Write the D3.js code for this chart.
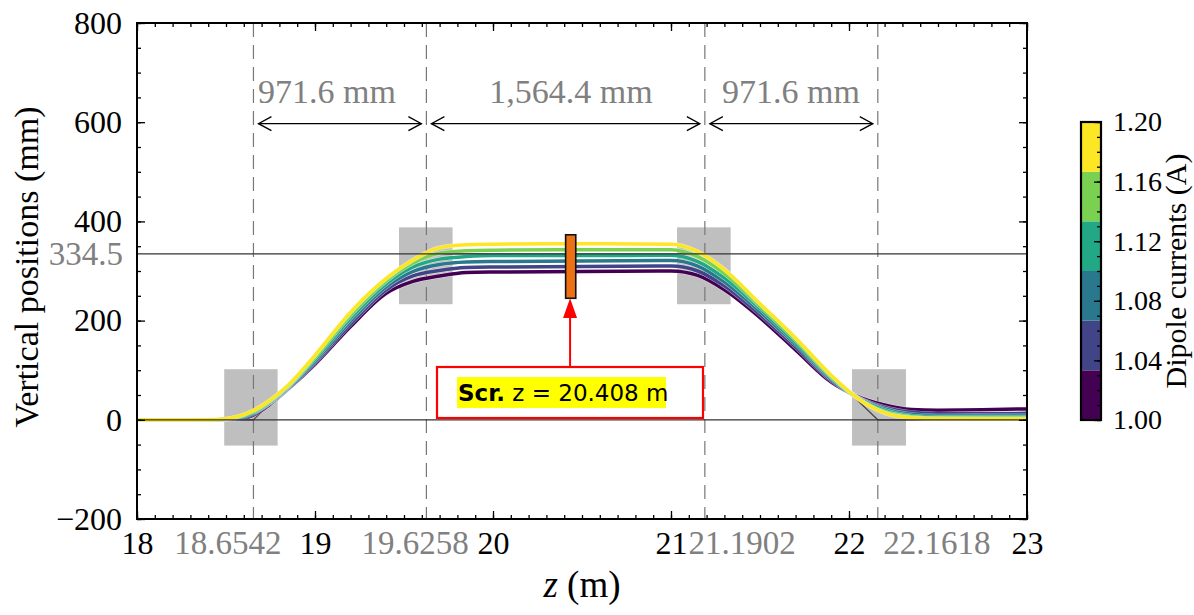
<!DOCTYPE html>
<html>
<head>
<meta charset="utf-8">
<script src="https://cdn.jsdelivr.net/npm/d3@7"></script>
<style>
body { margin: 0; background: #fff; }
</style>
</head>
<body>
<script>
// chart data
var zPts  = [18, 18.3, 18.45, 18.55, 18.65, 18.75, 18.85, 19.0, 19.2, 19.4, 19.55, 19.7, 19.85, 20.0, 20.5, 21.0, 21.15, 21.3, 21.5, 21.7, 21.9, 22.05, 22.2, 22.35, 22.5, 23];
var y100 = [0, 0, 0, 0.5, 9, 32, 62, 112, 188, 255, 279, 290, 297, 298, 299, 300, 291, 262, 206, 141, 76, 47, 30, 21, 19.5, 22];
var y104 = [0, 0, 0, 1, 11, 34, 63, 115, 193, 262, 290, 301, 307, 308, 309, 310, 300, 270, 212, 147, 79, 45, 25, 15, 12, 13];
var y108 = [0, 0, 0, 2, 13, 35, 64, 118, 199, 268, 299, 313, 318, 319, 320, 321, 310, 278, 218, 152, 82, 44, 22, 11, 8, 8.5];
var y112 = [0, 0, 0.2, 3, 14, 36, 66, 122, 205, 274, 308, 324, 329, 331, 331, 332, 319, 286, 224, 156, 85, 44, 19, 8, 5.5, 5.5];
var y116 = [0, 0, 0.3, 4, 16, 38, 68, 126, 211, 280, 316, 336, 341, 342, 343, 343, 329, 295, 229, 161, 87, 43, 16, 6, 3.5, 3.5];
var y120 = [0, 0, 0.5, 5, 18, 40, 70, 130, 217, 285, 322, 347, 353, 354, 355, 354, 339, 303, 234, 165, 90, 43, 14, 4, 2, 1.5];
var currents = [1.00, 1.04, 1.08, 1.12, 1.16, 1.20];
var series = [y100, y104, y108, y112, y116, y120];

var dipoleZ = [18.6542, 19.6258, 21.1902, 22.1618];
var dipoleLabels = ["18.6542", "19.6258", "21.1902", "22.1618"];
var dipoleLabelZ = [18.511, 19.562, 21.399, 22.494];
var boxZ0 = [18.49, 19.472, 21.034, 22.017];
var boxZ1 = [18.79, 19.773, 21.335, 22.32];
var boxY0 = [-52, 233, 233, -52];
var boxY1 = [102, 388, 388, 102];
var refZ = [18, 18.6542, 19.6258, 21.1902, 22.1618, 23];
var refY = [0, 0, 334.5, 334.5, 0, 0];
var gapLabels = ["971.6 mm", "1,564.4 mm", "971.6 mm"];
var gapLabelZ = [19.067, 20.438, 21.674];

var xTicks = [18, 19, 20, 21, 22, 23];
var yTicks = [-200, 0, 200, 400, 600, 800];
var cbTicks = [1.00, 1.04, 1.08, 1.12, 1.16, 1.20];
var cbEdges = [1.0, 1.03333, 1.06667, 1.1, 1.13333, 1.16667, 1.2];

var screenZ = [20.408, 20.465];
var screenY = [245, 373];

var w = 1194, h = 615;
var padL = 137, padR = 1027, padT = 23, padB = 519;
var serif = "'Liberation Serif', 'Times New Roman', serif";
var gray = "#808080";

var svg = d3.select("body").append("svg")
	.attr("width", w)
	.attr("height", h);

var x = d3.scaleLinear().domain([18, 23]).range([padL, padR]);
var y = d3.scaleLinear().domain([-200, 800]).range([padB, padT]);

svg.append("clipPath").attr("id", "clip")
	.append("rect")
	.attr("x", padL).attr("y", padT)
	.attr("width", padR - padL).attr("height", padB - padT);

var plot = svg.append("g").attr("clip-path", "url(#clip)");

// gray dipole boxes
plot.selectAll("rect.box")
	.data(boxZ0)
	.enter()
	.append("rect")
	.attr("class", "box")
	.attr("x", function(d){ return x(d); })
	.attr("width", function(d, i){ return x(boxZ1[i]) - x(d); })
	.attr("y", function(d, i){ return y(boxY1[i]); })
	.attr("height", function(d, i){ return y(boxY0[i]) - y(boxY1[i]); })
	.attr("fill", "#bfbfbf");

// dashed verticals
plot.selectAll("line.dip")
	.data(dipoleZ)
	.enter()
	.append("line")
	.attr("x1", function(d){ return x(d); })
	.attr("x2", function(d){ return x(d); })
	.attr("y1", padT).attr("y2", padB)
	.attr("stroke", "#777")
	.attr("stroke-width", 1.2)
	.attr("stroke-dasharray", "14,8");

// straight reference trajectory
plot.append("path")
	.datum(refZ)
	.attr("d", d3.line().x(function(d){ return x(d); }).y(function(d, i){ return y(refY[i]); }))
	.attr("fill", "none")
	.attr("stroke", "#444")
	.attr("stroke-width", 1.2);

// trajectories
var line = d3.line()
	.x(function(d, i){ return x(zPts[i]); })
	.y(function(d){ return y(d); })
	.curve(d3.curveMonotoneX);

series.forEach(function(s, i){
	plot.append("path")
		.datum(s)
		.attr("d", line)
		.attr("fill", "none")
		.attr("stroke", "#fff")
		.attr("stroke-opacity", 0.6)
		.attr("stroke-width", 4.4);
	plot.append("path")
		.datum(s)
		.attr("d", line)
		.attr("fill", "none")
		.attr("stroke", d3.interpolateViridis(i / 5))
		.attr("stroke-width", 3.5);
});

// horizontal reference levels
[0, 334.5].forEach(function(v){
	plot.append("line")
		.attr("x1", padL).attr("x2", padR)
		.attr("y1", y(v)).attr("y2", y(v))
		.attr("stroke", "#333")
		.attr("stroke-width", 1.3);
});

// screen
plot.append("rect")
	.attr("x", x(screenZ[0]))
	.attr("width", x(screenZ[1]) - x(screenZ[0]))
	.attr("y", y(screenY[1]))
	.attr("height", y(screenY[0]) - y(screenY[1]))
	.attr("fill", "#ec7014")
	.attr("stroke", "#111")
	.attr("stroke-width", 1.6);

// dimension arrows
var arrowY = y(597);
function arrowHead(px, dir)
{
	return "M" + (px - dir * 13) + "," + (arrowY - 7) + "L" + px + "," + arrowY + "L" + (px - dir * 13) + "," + (arrowY + 7);
}
for (var k = 0; k < 3; k++)
{
	var a = x(dipoleZ[k]) + 5, b = x(dipoleZ[k + 1]) - 5;
	svg.append("line")
		.attr("x1", a).attr("x2", b)
		.attr("y1", arrowY).attr("y2", arrowY)
		.attr("stroke", "#000").attr("stroke-width", 1.3);
	svg.append("path").attr("d", arrowHead(a, -1))
		.attr("fill", "none").attr("stroke", "#000").attr("stroke-width", 1.3);
	svg.append("path").attr("d", arrowHead(b, 1))
		.attr("fill", "none").attr("stroke", "#000").attr("stroke-width", 1.3);
	svg.append("text")
		.attr("x", x(gapLabelZ[k]))
		.attr("y", y(638))
		.attr("text-anchor", "middle")
		.attr("font-family", serif)
		.attr("font-size", 34)
		.attr("fill", gray)
		.text(gapLabels[k]);
}

// annotation box and arrow
var ax = x(20.433);
svg.append("line")
	.attr("x1", ax).attr("x2", ax)
	.attr("y1", 367).attr("y2", 314)
	.attr("stroke", "red").attr("stroke-width", 2);
svg.append("path")
	.attr("d", "M" + ax + "," + y(screenY[0]) + "L" + (ax - 7) + "," + 318 + "L" + (ax + 7) + "," + 318 + "Z")
	.attr("fill", "red");
svg.append("rect")
	.attr("x", 437).attr("y", 367)
	.attr("width", 266).attr("height", 51)
	.attr("fill", "#fff")
	.attr("stroke", "red").attr("stroke-width", 2.2);
svg.append("rect")
	.attr("x", 457).attr("y", 377)
	.attr("width", 209).attr("height", 31)
	.attr("fill", "#ffff00");
var note = svg.append("text")
	.attr("x", 458).attr("y", 401)
	.attr("font-family", "'DejaVu Sans', sans-serif")
	.attr("font-size", 23)
	.attr("fill", "#000");
note.append("tspan").attr("font-weight", "bold").text("Scr.");
note.append("tspan").text(" z = 20.408 m");

// axes
function styleAxis(g)
{
	g.select(".domain").remove();
	g.attr("font-family", serif).attr("font-size", 32);
	g.selectAll("line").attr("stroke", "#000").attr("stroke-width", 1.3);
	g.selectAll("text").attr("fill", "#000");
}

var xMinor = d3.range(180, 231).map(function(d){ return d / 10; });
var yMinor = d3.range(-200, 801, 50);

svg.append("g").attr("transform", "translate(0," + padB + ")")
	.call(d3.axisBottom(x).tickValues(xMinor).tickSize(-4).tickFormat(""))
	.call(styleAxis);
svg.append("g").attr("transform", "translate(0," + padB + ")")
	.call(d3.axisBottom(x).tickValues(xTicks).tickSize(-8).tickPadding(12).tickFormat(d3.format("d")))
	.call(styleAxis);
svg.append("g").attr("transform", "translate(0," + padT + ")")
	.call(d3.axisTop(x).tickValues(xMinor).tickSize(-4).tickFormat(""))
	.call(styleAxis);
svg.append("g").attr("transform", "translate(0," + padT + ")")
	.call(d3.axisTop(x).tickValues(xTicks).tickSize(-8).tickFormat(""))
	.call(styleAxis);

svg.append("g").attr("transform", "translate(" + padL + ",0)")
	.call(d3.axisLeft(y).tickValues(yMinor).tickSize(-4).tickFormat(""))
	.call(styleAxis);
svg.append("g").attr("transform", "translate(" + padL + ",0)")
	.call(d3.axisLeft(y).tickValues(yTicks).tickSize(-8).tickPadding(15).tickFormat(d3.format("d")))
	.call(styleAxis);
svg.append("g").attr("transform", "translate(" + padR + ",0)")
	.call(d3.axisRight(y).tickValues(yMinor).tickSize(-4).tickFormat(""))
	.call(styleAxis);
svg.append("g").attr("transform", "translate(" + padR + ",0)")
	.call(d3.axisRight(y).tickValues(yTicks).tickSize(-8).tickFormat(""))
	.call(styleAxis);

// extra gray tick labels
svg.selectAll("text.dipLabel")
	.data(dipoleLabelZ)
	.enter()
	.append("text")
	.attr("x", function(d){ return x(d); })
	.attr("y", padB + 12)
	.attr("dy", "0.71em")
	.attr("text-anchor", "middle")
	.attr("font-family", serif)
	.attr("font-size", 33)
	.attr("fill", gray)
	.text(function(d, i){ return dipoleLabels[i]; });

svg.append("text")
	.attr("x", padL - 14)
	.attr("y", y(334.5))
	.attr("dy", "0.35em")
	.attr("text-anchor", "end")
	.attr("font-family", serif)
	.attr("font-size", 33)
	.attr("fill", gray)
	.text("334.5");

// frame
svg.append("rect")
	.attr("x", padL).attr("y", padT)
	.attr("width", padR - padL).attr("height", padB - padT)
	.attr("fill", "none")
	.attr("stroke", "#000")
	.attr("stroke-width", 2);

// axis titles
var xt = svg.append("text")
	.attr("x", (padL + padR) / 2)
	.attr("y", 597)
	.attr("text-anchor", "middle")
	.attr("font-family", serif)
	.attr("font-size", 37);
xt.append("tspan").attr("font-style", "italic").text("z");
xt.append("tspan").text(" (m)");

svg.append("text")
	.attr("transform", "translate(38," + ((padT + padB) / 2 - 4) + ") rotate(-90)")
	.attr("text-anchor", "middle")
	.attr("font-family", serif)
	.attr("font-size", 34)
	.text("Vertical positions (mm)");

// colorbar
var cbX = 1081, cbW = 20;
var cb = d3.scaleLinear().domain([1.0, 1.2]).range([420, 122]);

svg.selectAll("rect.cb")
	.data(cbEdges.slice(0, 6))
	.enter()
	.append("rect")
	.attr("x", cbX)
	.attr("width", cbW)
	.attr("y", function(d, i){ return cb(cbEdges[i + 1]); })
	.attr("height", function(d, i){ return cb(d) - cb(cbEdges[i + 1]); })
	.attr("fill", function(d, i){ return d3.interpolateViridis(i / 5); });

var cbMinor = d3.range(100, 121).map(function(d){ return d / 100; });
svg.append("g").attr("transform", "translate(" + (cbX + cbW) + ",0)")
	.call(d3.axisRight(cb).tickValues(cbMinor).tickSize(-4).tickFormat(""))
	.call(styleAxis);
svg.append("g").attr("transform", "translate(" + (cbX + cbW) + ",0)")
	.call(d3.axisRight(cb).tickValues(cbTicks).tickSize(-7).tickPadding(12).tickFormat(d3.format(".2f")))
	.call(styleAxis)
	.attr("font-size", 28);

svg.append("rect")
	.attr("x", cbX).attr("y", 122)
	.attr("width", cbW).attr("height", 298)
	.attr("fill", "none")
	.attr("stroke", "#000")
	.attr("stroke-width", 2.2);

svg.append("text")
	.attr("transform", "translate(1186,271) rotate(-90)")
	.attr("text-anchor", "middle")
	.attr("font-family", serif)
	.attr("font-size", 30)
	.text("Dipole currents (A)");
</script>
</body>
</html>
